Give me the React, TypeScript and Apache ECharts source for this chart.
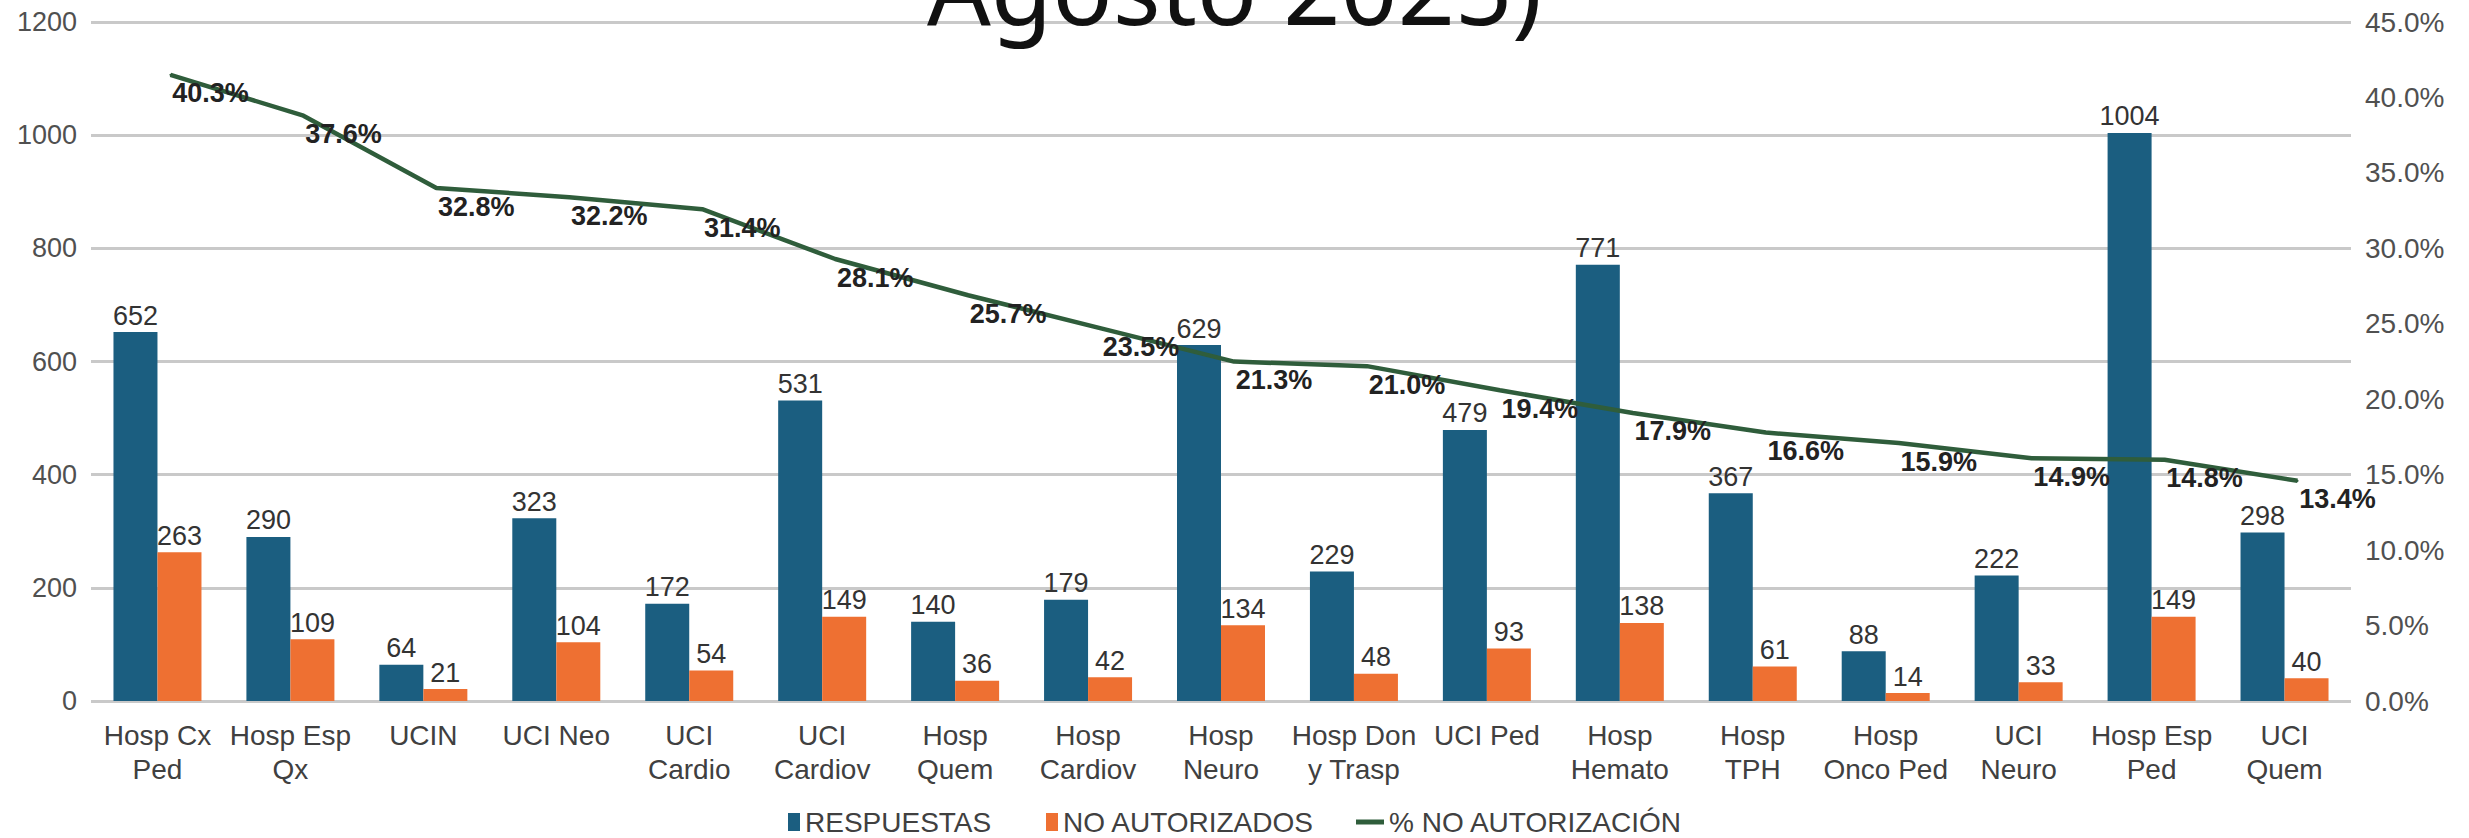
import React, { useEffect, useRef } from "react";
import * as echarts from "echarts";

const categories = [
  "Hosp Cx\nPed",
  "Hosp Esp\nQx",
  "UCIN",
  "UCI Neo",
  "UCI\nCardio",
  "UCI\nCardiov",
  "Hosp\nQuem",
  "Hosp\nCardiov",
  "Hosp\nNeuro",
  "Hosp Don\ny Trasp",
  "UCI Ped",
  "Hosp\nHemato",
  "Hosp\nTPH",
  "Hosp\nOnco Ped",
  "UCI\nNeuro",
  "Hosp Esp\nPed",
  "UCI\nQuem",
];

const respuestas = [652, 290, 64, 323, 172, 531, 140, 179, 629, 229, 479, 771, 367, 88, 222, 1004, 298];
const noAutorizados = [263, 109, 21, 104, 54, 149, 36, 42, 134, 48, 93, 138, 61, 14, 33, 149, 40];
const pctNoAutorizacion = [40.3, 37.6, 32.8, 32.2, 31.4, 28.1, 25.7, 23.5, 21.3, 21.0, 19.4, 17.9, 16.6, 15.9, 14.9, 14.8, 13.4];

const leftTicks = { min: 0, max: 1200, interval: 200 };
const rightTicks = { min: 0, max: 45, interval: 5 };

const seriesNames = ["RESPUESTAS", "NO AUTORIZADOS", "% NO AUTORIZACIÓN"];
const titleText = "Agosto 2025)";

const FONT = "'Liberation Sans', Arial, sans-serif";
const BLUE = "#1b5e80";
const ORANGE = "#ee7032";
const GREEN = "#2f5d3b";

export default function App() {
  const ref = useRef<HTMLDivElement>(null);

  useEffect(() => {
    document.body.style.margin = "0";
    document.body.style.overflow = "hidden";
    if (!ref.current) return;
    const chart = echarts.init(ref.current, undefined, { renderer: "svg" });

    const gridLeft = 91;
    const gridRight = 118;
    const gridTop = 22;
    const gridBottom = 137;
    const lineDx = 13;
    const lineDy = 18;

    const legendText = { fontSize: 28, fontFamily: FONT, color: "#404040" };

    const option: any = {
      animation: false,
      backgroundColor: "#ffffff",
      title: {
        text: titleText,
        left: "center",
        top: -69,
        textStyle: {
          fontSize: 100,
          fontWeight: "normal",
          fontFamily: "'Noto Sans', sans-serif",
          color: "#111111",
        },
      },
      legend: [
        {
          data: [{ name: seriesNames[0], icon: "rect" }],
          left: 788,
          top: 808,
          padding: 0,
          itemWidth: 12,
          itemHeight: 18,
          textStyle: legendText,
        },
        {
          data: [{ name: seriesNames[1], icon: "rect" }],
          left: 1046,
          top: 808,
          padding: 0,
          itemWidth: 12,
          itemHeight: 18,
          textStyle: legendText,
        },
        {
          data: [{ name: seriesNames[2], icon: "path://M0 0H28V5H0Z" }],
          left: 1356,
          top: 808,
          padding: 0,
          itemWidth: 28,
          itemHeight: 18,
          textStyle: legendText,
        },
      ],
      grid: [
        { left: gridLeft, right: gridRight, top: gridTop, bottom: gridBottom },
        {
          left: gridLeft + lineDx,
          right: gridRight - lineDx,
          top: gridTop - lineDy,
          bottom: gridBottom + lineDy,
        },
      ],
      xAxis: [
        {
          type: "category",
          gridIndex: 0,
          data: categories,
          axisLine: { show: false },
          axisTick: { show: false },
          axisLabel: {
            interval: 0,
            margin: 17,
            fontSize: 28,
            lineHeight: 34,
            fontFamily: FONT,
            color: "#404040",
          },
        },
        {
          type: "category",
          gridIndex: 1,
          data: categories,
          show: false,
        },
      ],
      yAxis: [
        {
          type: "value",
          gridIndex: 0,
          min: leftTicks.min,
          max: leftTicks.max,
          interval: leftTicks.interval,
          axisLine: { show: false },
          axisTick: { show: false },
          axisLabel: {
            margin: 14,
            fontSize: 27,
            fontFamily: FONT,
            color: "#505050",
            formatter: (v: number) => String(v),
          },
          splitLine: { lineStyle: { color: "#c9c9c9", width: 3 } },
        },
        {
          type: "value",
          gridIndex: 0,
          position: "right",
          min: rightTicks.min,
          max: rightTicks.max,
          interval: rightTicks.interval,
          axisLine: { show: false },
          axisTick: { show: false },
          splitLine: { show: false },
          axisLabel: {
            margin: 14,
            fontSize: 28,
            fontFamily: FONT,
            color: "#505050",
            formatter: (v: number) => v.toFixed(1) + "%",
          },
        },
        {
          type: "value",
          gridIndex: 1,
          min: rightTicks.min,
          max: rightTicks.max,
          show: false,
        },
      ],
      series: [
        {
          name: seriesNames[0],
          type: "bar",
          xAxisIndex: 0,
          yAxisIndex: 0,
          data: respuestas,
          barWidth: 44,
          barGap: "0%",
          itemStyle: { color: BLUE },
          label: {
            show: true,
            position: "top",
            distance: 3,
            fontSize: 27,
            fontFamily: FONT,
            color: "#333333",
          },
        },
        {
          name: seriesNames[1],
          type: "bar",
          xAxisIndex: 0,
          yAxisIndex: 0,
          data: noAutorizados,
          barWidth: 44,
          barGap: "0%",
          itemStyle: { color: ORANGE },
          label: {
            show: true,
            position: "top",
            distance: 3,
            fontSize: 27,
            fontFamily: FONT,
            color: "#333333",
          },
        },
        {
          name: seriesNames[2],
          type: "line",
          xAxisIndex: 1,
          yAxisIndex: 2,
          data: pctNoAutorizacion,
          symbol: "circle",
          symbolSize: 2,
          showSymbol: true,
          itemStyle: { color: GREEN },
          lineStyle: { color: GREEN, width: 4.5 },
          z: 5,
          label: {
            show: true,
            position: "bottom",
            distance: 4,
            offset: [40, 0],
            fontSize: 27,
            fontWeight: "bold",
            fontFamily: FONT,
            color: "#222222",
            formatter: (p: any) => Number(p.value).toFixed(1) + "%",
          },
        },
      ],
    };

    chart.setOption(option);
    return () => {
      chart.dispose();
    };
  }, []);

  return <div ref={ref} style={{ width: 2469, height: 838 }} />;
}
